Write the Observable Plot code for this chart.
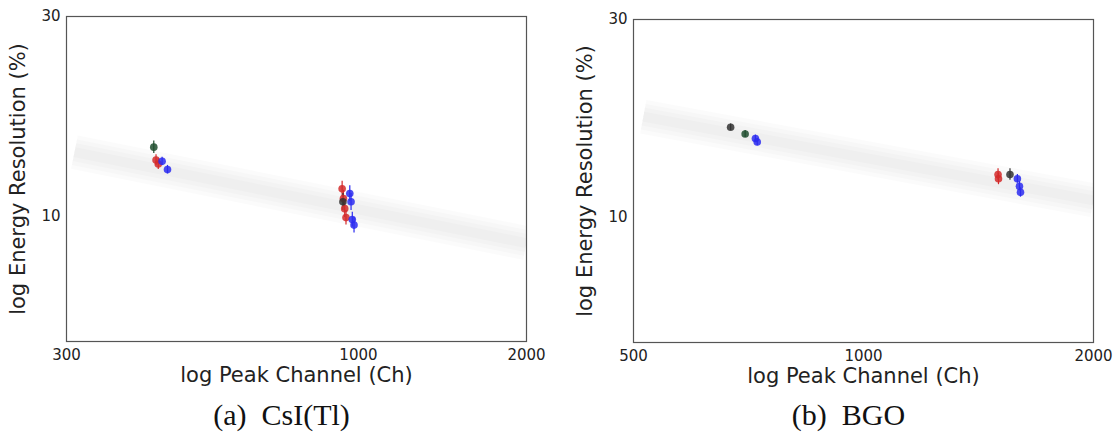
<!DOCTYPE html>
<html>
<head>
<meta charset="utf-8">
<script src="https://cdn.jsdelivr.net/npm/d3@7"></script>
<script src="https://cdn.jsdelivr.net/npm/@observablehq/plot@0.6"></script>
<style>
  body { margin: 0; background: #fff; }
  #wrap { display: flex; width: 1114px; }
  .panel { width: 557px; }
  .cap { font-family: "Liberation Serif", serif; font-size: 30px; text-align: center; line-height: 40px; color: #111; }
  g[aria-label="x-axis label"] text, g[aria-label="y-axis label"] text { font-size: 21px; }
  g[aria-label="x-axis label"], g[aria-label="y-axis label"] { font-size: 21px; }
</style>
</head>
<body>
<div id="wrap"></div>
<script>
// ---- Panel (a) CsI(Tl) ----
const csiChannel = [430, 434, 438, 445, 455, 935, 940, 945, 950, 938, 965, 970, 975, 982];
const csiRes     = [14.6, 13.6, 13.3, 13.5, 12.9, 11.6, 11.0, 10.4, 9.9, 10.8, 11.3, 10.8, 9.8, 9.5];
const csiErr     = [0.5, 0.4, 0.4, 0.3, 0.3, 0.5, 0.5, 0.5, 0.4, 0.5, 0.5, 0.5, 0.4, 0.4];
const csiGroup   = ["g", "r", "r", "b", "b", "r", "r", "r", "r", "k", "b", "b", "b", "b"];
const csiFitX = [310, 2000];
const csiFitY = [14.2, 8.6];
const csiXTicks = [300, 1000, 2000];

// ---- Panel (b) BGO ----
const bgoChannel = [670, 700, 722, 726, 1500, 1502, 1555, 1590, 1600, 1605];
const bgoRes     = [16.5, 15.9, 15.5, 15.2, 12.7, 12.4, 12.7, 12.4, 11.9, 11.5];
const bgoErr     = [0.3, 0.3, 0.3, 0.3, 0.4, 0.4, 0.4, 0.3, 0.3, 0.3];
const bgoGroup   = ["k", "g", "b", "b", "r", "r", "k", "b", "b", "b"];
const bgoFitX = [515, 2000];
const bgoFitY = [17.5, 11.0];
const bgoXTicks = [500, 1000, 2000];

const yTicks = [10, 30];
const yDomain = [5, 30];
const groupColors = { r: "#d42a2a", b: "#2b2bf0", g: "#1f4d2e", k: "#333333" };

const xLabel = "log Peak Channel (Ch)";
const yLabel = "log Energy Resolution (%)";

// soft band: stacked strokes of decreasing width (blurred-look fit line)
const bandWidths = [34, 26, 18, 10];

function panel({ xs, ys, errs, groups, fitX, fitY, xDomain, xTicks, margins, caption, capShift }) {
  const pts = xs.map((x, i) => ({ x, y: ys[i], e: errs[i], c: groupColors[groups[i]] }));
  const fit = fitX.map((x, i) => ({ x, y: fitY[i] }));
  const svg = Plot.plot({
    width: 557,
    height: 395,
    ...margins,
    style: { fontFamily: "DejaVu Sans, sans-serif", fontSize: "15px", color: "#222", background: "white" },
    x: { type: "log", domain: xDomain, ticks: xTicks, tickFormat: d => String(d), tickSize: 0, tickPadding: 8,
         label: xLabel, labelAnchor: "center", labelOffset: 40, labelArrow: "none" },
    y: { type: "log", domain: yDomain, ticks: yTicks, tickFormat: d => String(d), tickSize: 0, tickPadding: 6,
         label: yLabel, labelAnchor: "center", labelOffset: 56, labelArrow: "none" },
    marks: [
      ...bandWidths.map(w => Plot.line(fit, { x: "x", y: "y", stroke: "#808080", strokeWidth: w, strokeOpacity: 0.032, strokeLinecap: "butt", clip: true })),
      Plot.ruleX(pts, { x: "x", y1: d => d.y - d.e, y2: d => d.y + d.e, stroke: "c", strokeWidth: 1.2 }),
      Plot.dot(pts, { x: "x", y: "y", r: 3.8, fill: "c", fillOpacity: 0.85 }),
      Plot.frame({ stroke: "#555", strokeWidth: 1.2 })
    ]
  });
  svg.querySelectorAll('g[aria-label$="axis label"] text, g[aria-label$="axis label"] tspan').forEach(t => {
    if (t.childNodes.length === 1 && t.firstChild.nodeType === 3)
      t.textContent = t.textContent.replace(/\s*[→↑←↓]\s*/g, "").trim();
  });
  const div = document.createElement("div");
  div.className = "panel";
  div.appendChild(svg);
  const cap = document.createElement("div");
  cap.className = "cap";
  cap.style.paddingLeft = capShift + "px";
  cap.innerHTML = caption;
  div.appendChild(cap);
  return div;
}

const wrap = document.getElementById("wrap");
wrap.appendChild(panel({
  xs: csiChannel, ys: csiRes, errs: csiErr, groups: csiGroup, fitX: csiFitX, fitY: csiFitY,
  xDomain: [300, 2000], xTicks: csiXTicks,
  margins: { marginLeft: 66, marginRight: 31, marginTop: 16, marginBottom: 54 },
  caption: "(a)&ensp;CsI(Tl)", capShift: 6
}));
wrap.appendChild(panel({
  xs: bgoChannel, ys: bgoRes, errs: bgoErr, groups: bgoGroup, fitX: bgoFitX, fitY: bgoFitY,
  xDomain: [500, 2000], xTicks: bgoXTicks,
  margins: { marginLeft: 76, marginRight: 21, marginTop: 19, marginBottom: 53 },
  caption: "(b)&ensp;BGO", capShift: 26
}));
</script>
</body>
</html>
